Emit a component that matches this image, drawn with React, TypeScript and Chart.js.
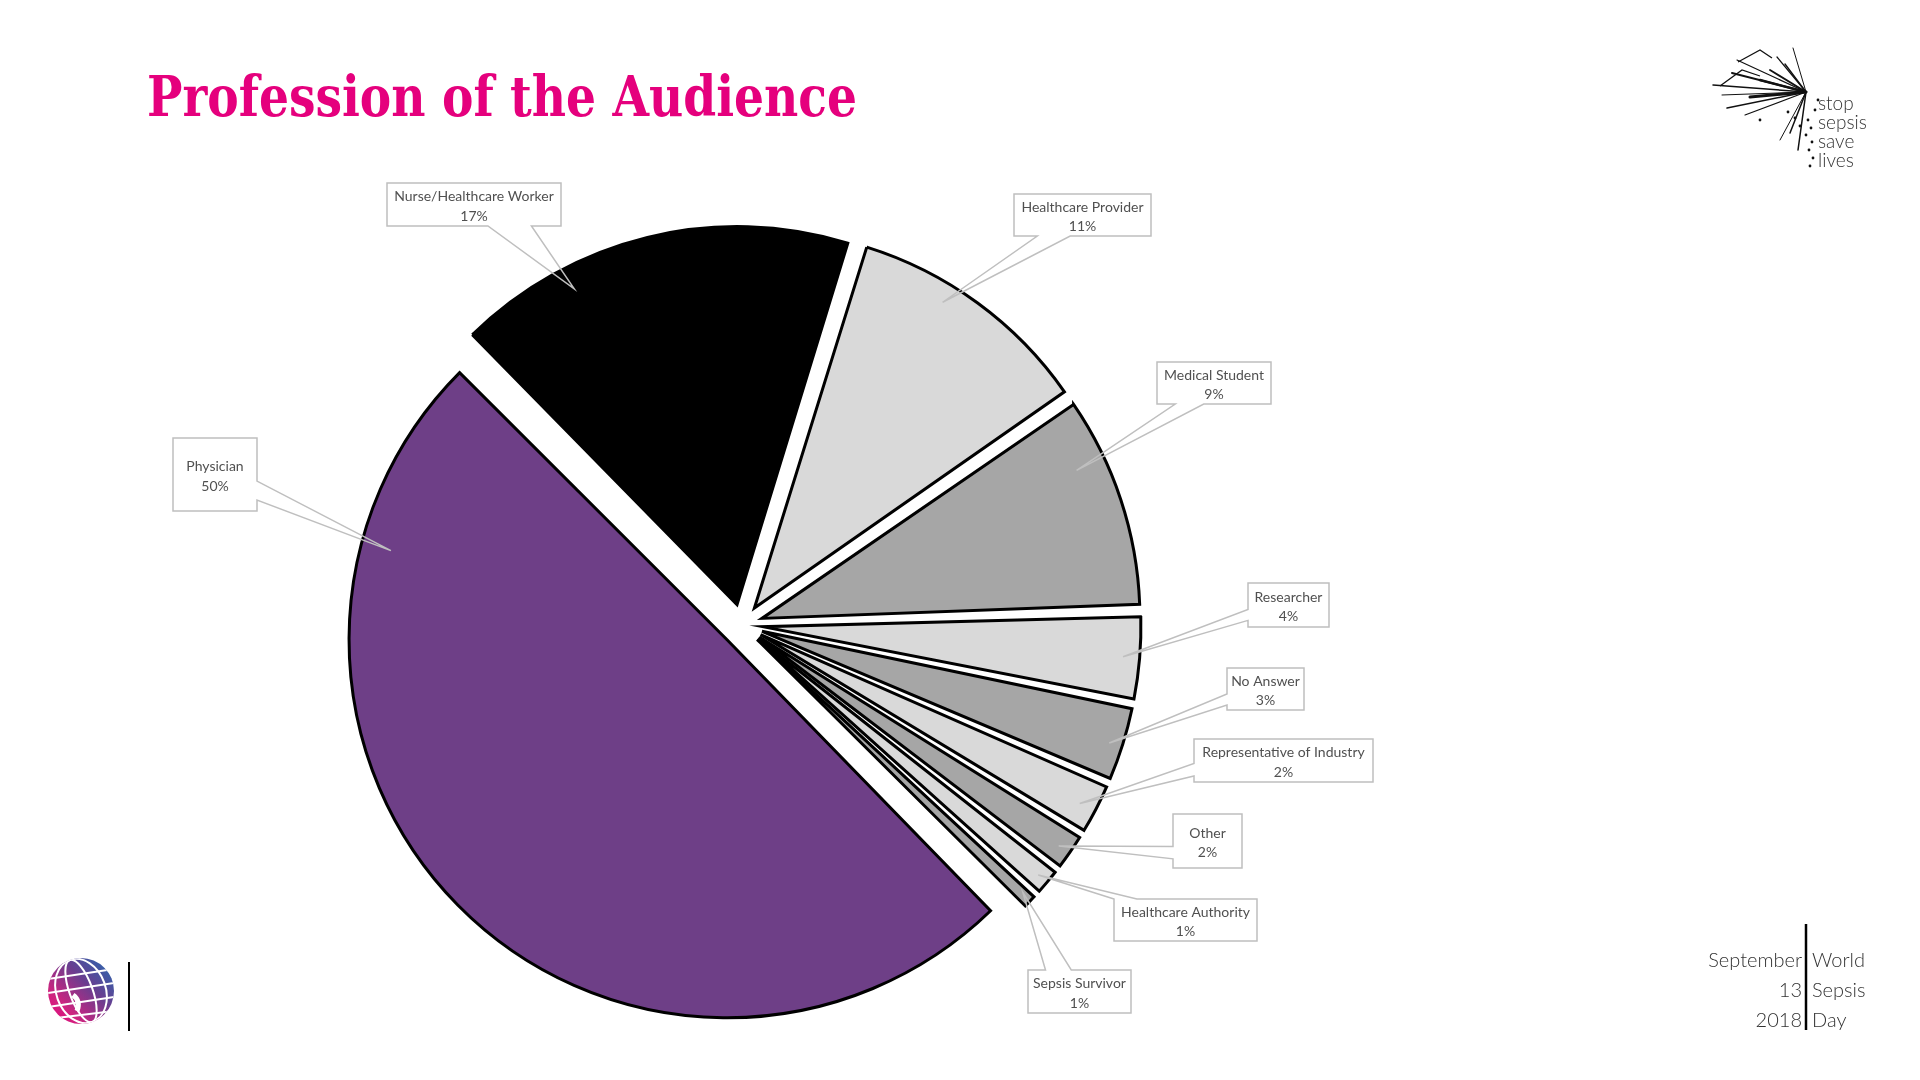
import React, { useEffect, useRef } from 'react';
import { Chart, registerables } from 'chart.js';

Chart.register(...registerables);

// ---- data (clockwise from the top) ----
const categories = [
  'Healthcare Provider',
  'Medical Student',
  'Researcher',
  'No Answer',
  'Representative of Industry',
  'Other',
  'Healthcare Authority',
  'Sepsis Survivor',
  'Physician',
  'Nurse/Healthcare Worker',
];
const shares = [10.6, 9.1, 3.7, 3.3, 2.3, 1.7, 1.3, 0.8, 50, 17.1];

// ---- styles ----
const sliceColors = [
  '#d9d9d9', '#a6a6a6', '#d9d9d9', '#a6a6a6', '#d9d9d9',
  '#a6a6a6', '#d9d9d9', '#a6a6a6', '#6e3f87', '#000000',
];

// ---- callout layout: box [x, y, w, h], pointer side, base fractions, tip (angle fraction, radius fraction) ----
const labelBoxes = [
  [1014, 194, 137, 42],
  [1157, 362, 114, 42],
  [1248, 583, 81, 44],
  [1227, 668, 77, 42],
  [1194, 739, 179, 43],
  [1173, 814, 69, 54],
  [1114, 899, 143, 42],
  [1028, 970, 103, 43],
  [173, 438, 84, 73],
  [387, 183, 174, 43],
];
const pointerSides = ['bottom', 'bottom', 'left', 'left', 'left', 'left', 'top', 'top', 'right', 'bottom'];
const pointerBase = [
  [0.17, 0.41], [0.16, 0.41], [0.6, 0.85], [0.62, 0.88], [0.57, 0.86],
  [0.6, 0.83], [0.0, 0.16], [0.17, 0.42], [0.59, 0.85], [0.58, 0.83],
];
const pointerTip = [
  [0.38, 0.95], [0.29, 0.92], [0.5, 0.956], [0.54, 0.965], [0.55, 0.955],
  [0.54, 0.966], [0.52, 0.97], [0.4, 0.97], [0.83, 0.92], [0.28, 0.94],
];

const radiusFixPlugin = {
  id: 'radiusFix',
  beforeDatasetsDraw(chart: any) {
    const meta = chart.getDatasetMeta(0);
    const base = meta.controller.outerRadius;
    meta.data.forEach((arc: any) => {
      const off = (arc.options.offset || 0) / 4;
      const circ = arc.endAngle - arc.startAngle;
      const fix = 1 - Math.sin(Math.min(Math.PI, circ));
      arc.outerRadius = base - off * fix;
    });
  },
};

const calloutPlugin = {
  id: 'callouts',
  afterDatasetsDraw(chart: any) {
    const ctx: CanvasRenderingContext2D = chart.ctx;
    const meta = chart.getDatasetMeta(0);
    const R = meta.controller.outerRadius;
    const total = shares.reduce((a, b) => a + b, 0);
    meta.data.forEach((arc: any, i: number) => {
      const { x, y, startAngle, endAngle } = arc;
      const off = (arc.options.offset || 0) / 4;
      const mid = (startAngle + endAngle) / 2;
      const [t, rf] = pointerTip[i];
      const th = startAngle + t * (endAngle - startAngle);
      const tx = x + Math.cos(mid) * off + Math.cos(th) * R * rf;
      const ty = y + Math.sin(mid) * off + Math.sin(th) * R * rf;
      const [bx, by, bw, bh] = labelBoxes[i];
      const side = pointerSides[i];
      const [f1, f2] = pointerBase[i];
      const corners = [
        [bx, by], [bx + bw, by], [bx + bw, by + bh], [bx, by + bh],
      ];
      const sides = ['top', 'right', 'bottom', 'left'];
      ctx.save();
      ctx.fillStyle = '#ffffff';
      ctx.fillRect(bx, by, bw, bh);
      ctx.beginPath();
      for (let k = 0; k < 4; k++) {
        const [cx, cy] = corners[k];
        if (k === 0) ctx.moveTo(cx, cy); else ctx.lineTo(cx, cy);
        if (sides[k] === side) {
          let p1: number[], p2: number[];
          if (side === 'top') { p1 = [bx + f1 * bw, by]; p2 = [bx + f2 * bw, by]; }
          else if (side === 'right') { p1 = [bx + bw, by + f1 * bh]; p2 = [bx + bw, by + f2 * bh]; }
          else if (side === 'bottom') { p1 = [bx + f2 * bw, by + bh]; p2 = [bx + f1 * bw, by + bh]; }
          else { p1 = [bx, by + f2 * bh]; p2 = [bx, by + f1 * bh]; }
          ctx.lineTo(p1[0], p1[1]);
          ctx.lineTo(tx, ty);
          ctx.lineTo(p2[0], p2[1]);
        }
      }
      ctx.closePath();
      ctx.strokeStyle = '#bfbfbf';
      ctx.lineWidth = 1.5;
      ctx.lineJoin = 'miter';
      ctx.stroke();
      ctx.fillStyle = '#505050';
      ctx.font = '14px Lato';
      ctx.textAlign = 'center';
      ctx.textBaseline = 'middle';
      const cx = bx + bw / 2;
      const cy = by + bh / 2 + 2;
      ctx.fillText(categories[i], cx, cy - 9.75);
      ctx.fillText(Math.round((shares[i] / total) * 100) + '%', cx, cy + 9.75);
      ctx.restore();
    });
  },
};

function Splatter() {
  const fx = 1806, fy = 92;
  const ends = [
    [1713, 85, 1.5], [1737, 60, 1.2], [1732, 73, 2], [1727, 108, 1.5], [1750, 97, 3],
    [1777, 57, 1.2], [1793, 48, 1], [1760, 80, 2.5], [1745, 115, 1.2], [1790, 133, 1.5],
    [1780, 140, 1], [1798, 150, 1.5], [1722, 95, 1], [1770, 70, 1.8], [1785, 64, 1.4],
  ];
  const dots = [
    [1808, 120], [1811, 128], [1806, 135], [1812, 142], [1809, 150], [1813, 158], [1810, 166],
    [1795, 118], [1800, 126], [1788, 112], [1760, 120], [1818, 100], [1815, 110],
  ];
  return (
    <g>
      {ends.map(([x, y, w], i) => (
        <line key={i} x1={fx} y1={fy} x2={x} y2={y} stroke="#111" strokeWidth={w} strokeLinecap="round" />
      ))}
      {dots.map(([x, y], i) => (
        <circle key={'d' + i} cx={x} cy={y} r={1.4} fill="#111" />
      ))}
      <path d="M1738 62 L1760 50 L1772 58 M1720 86 L1742 70 L1760 76" stroke="#111" strokeWidth={1.3} fill="none" />
    </g>
  );
}

function Globe() {
  const cx = 81, cy = 991, r = 33;
  return (
    <g>
      <defs>
        <linearGradient id="globeGrad" x1="1" y1="0" x2="0" y2="1">
          <stop offset="0%" stopColor="#1f6fb5" />
          <stop offset="40%" stopColor="#6a3d8f" />
          <stop offset="75%" stopColor="#d0247f" />
          <stop offset="100%" stopColor="#e5007d" />
        </linearGradient>
        <clipPath id="globeClip">
          <circle cx={cx} cy={cy} r={r} />
        </clipPath>
      </defs>
      <circle cx={cx} cy={cy} r={r} fill="url(#globeGrad)" />
      <g clipPath="url(#globeClip)" stroke="#ffffff" strokeWidth={2} fill="none">
        <ellipse cx={cx} cy={cy} rx={r * 0.35} ry={r} transform={`rotate(-20 ${cx} ${cy})`} />
        <ellipse cx={cx} cy={cy} rx={r * 0.75} ry={r} transform={`rotate(-20 ${cx} ${cy})`} />
        <line x1={cx - r} y1={cy - 12} x2={cx + r} y2={cy - 22} />
        <line x1={cx - r} y1={cy + 2} x2={cx + r} y2={cy - 8} />
        <line x1={cx - r} y1={cy + 16} x2={cx + r} y2={cy + 6} />
        <line x1={cx - r} y1={cy + 28} x2={cx + r} y2={cy + 20} />
        <path d={`M${cx - 8} ${cy + 4} q 8 6 4 16`} strokeWidth={5} />
      </g>
    </g>
  );
}

export default function App() {
  const canvasRef = useRef<HTMLCanvasElement | null>(null);

  useEffect(() => {
    if (!canvasRef.current) return;
    const chart = new Chart(canvasRef.current, {
      type: 'pie',
      data: {
        labels: categories,
        datasets: [
          {
            data: shares,
            backgroundColor: sliceColors,
            borderColor: '#000000',
            borderWidth: 3,
            borderJoinStyle: 'miter',
            offset: 84,
          } as any,
        ],
      },
      options: {
        animation: false,
        responsive: false,
        events: [],
        rotation: 17.1,
        radius: 378,
        layout: { padding: { left: 0, right: 436, top: 170, bottom: 0 } },
        plugins: {
          legend: { display: false },
          tooltip: { enabled: false },
        },
      } as any,
      plugins: [radiusFixPlugin, calloutPlugin],
    });
    return () => chart.destroy();
  }, []);

  return (
    <div style={{ position: 'absolute', left: 0, top: 0, width: 1920, height: 1080, background: '#ffffff', overflow: 'hidden' }}>
      <canvas ref={canvasRef} width={1920} height={1080} style={{ position: 'absolute', left: 0, top: 0, width: 1920, height: 1080, display: 'block' }} />
      <svg width={1920} height={1080} style={{ position: 'absolute', left: 0, top: 0, pointerEvents: 'none' }}>
        <text x={147} y={116} fontFamily="'DejaVu Serif', serif" fontWeight="bold" fontSize={56} fill="#e5007d" textLength={710} lengthAdjust="spacingAndGlyphs">
          Profession of the Audience
        </text>
        <Splatter />
        <g fontFamily="Lato, sans-serif" fontWeight={300} fontSize={19} fill="#333333">
          <text x={1818} y={110}>stop</text>
          <text x={1818} y={129}>sepsis</text>
          <text x={1818} y={148}>save</text>
          <text x={1818} y={167}>lives</text>
        </g>
        <line x1={1806} y1={924} x2={1806} y2={1030} stroke="#000" strokeWidth={2.5} />
        <g fontFamily="Lato, sans-serif" fontWeight={300} fontSize={20} fill="#333333">
          <text x={1802} y={967} textAnchor="end">September</text>
          <text x={1802} y={997} textAnchor="end">13</text>
          <text x={1802} y={1027} textAnchor="end">2018</text>
          <text x={1812} y={967}>World</text>
          <text x={1812} y={997}>Sepsis</text>
          <text x={1812} y={1027}>Day</text>
        </g>
        <Globe />
        <line x1={129} y1={962} x2={129} y2={1031} stroke="#000" strokeWidth={2} />
      </svg>
    </div>
  );
}
